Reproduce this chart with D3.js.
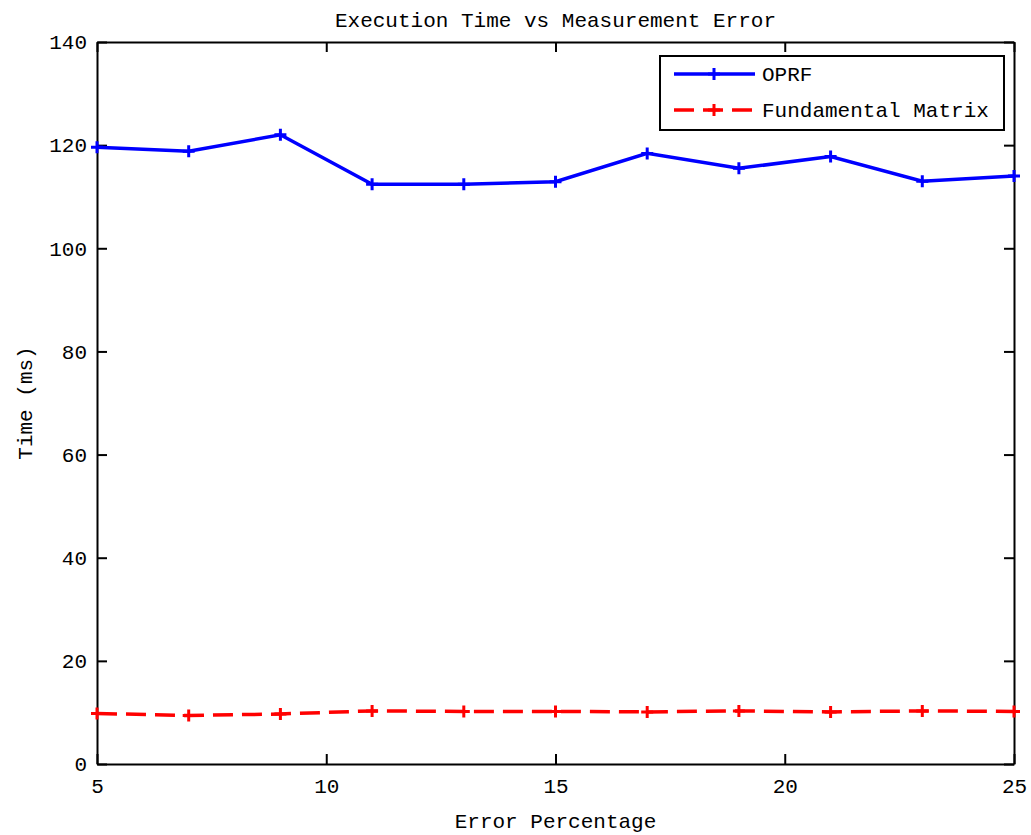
<!DOCTYPE html>
<html>
<head>
<meta charset="utf-8">
<script src="https://cdn.jsdelivr.net/npm/d3@7"></script>
<style>
  body { margin: 0; background: #fff; }
  text { font-family: "Liberation Mono", "DejaVu Sans Mono", monospace; font-size: 21px; fill: #000; }
</style>
</head>
<body>
<svg id="chart" width="1031" height="835"></svg>
<script>
// datos
const errorPct = [5, 7, 9, 11, 13, 15, 17, 19, 21, 23, 25];
const oprf = [119.6, 118.8, 122.0, 112.4, 112.4, 112.9, 118.4, 115.5, 117.8, 113.0, 114.0];
const fundamental = [9.8, 9.4, 9.7, 10.3, 10.2, 10.2, 10.1, 10.3, 10.1, 10.3, 10.2];
const xTicks = [5, 10, 15, 20, 25];
const yTicks = [0, 20, 40, 60, 80, 100, 120, 140];

const svg = d3.select("#chart");
const margin = {left: 97, right: 1014, top: 42, bottom: 764};

const x = d3.scaleLinear().domain([5, 25]).range([margin.left, margin.right]);
const y = d3.scaleLinear().domain([0, 140]).range([margin.bottom, margin.top]);

// ejes (ticks hacia dentro, como en matlab)
const axes = svg.append("g");
axes.append("g")
    .attr("transform", `translate(0,${margin.bottom})`)
    .call(d3.axisBottom(x).tickValues(xTicks).tickSizeInner(-10).tickSizeOuter(0).tickPadding(14));
axes.append("g")
    .attr("transform", `translate(0,${margin.top})`)
    .call(d3.axisTop(x).tickValues(xTicks).tickSizeInner(-10).tickSizeOuter(0).tickFormat(""));
axes.append("g")
    .attr("transform", `translate(${margin.left},0)`)
    .call(d3.axisLeft(y).tickValues(yTicks).tickSizeInner(-10).tickSizeOuter(0).tickPadding(10));
axes.append("g")
    .attr("transform", `translate(${margin.right},0)`)
    .call(d3.axisRight(y).tickValues(yTicks).tickSizeInner(-10).tickSizeOuter(0).tickFormat(""));

axes.selectAll(".domain").attr("stroke", "#000").attr("stroke-width", 2);
axes.selectAll(".tick line").attr("stroke", "#000").attr("stroke-width", 2);
axes.selectAll(".tick text").style("font-size", "21px").attr("fill", "#000");

// series
const line = d3.line().x((d, i) => x(errorPct[i])).y(d => y(d));

function drawSeries(values, color, dash) {
    const g = svg.append("g");
    g.append("path")
        .datum(values)
        .attr("fill", "none")
        .attr("stroke", color)
        .attr("stroke-width", 3.5)
        .attr("stroke-dasharray", dash)
        .attr("d", line);
    g.selectAll(".mk").data(values).enter().append("path")
        .attr("class", "mk")
        .attr("fill", "none")
        .attr("stroke", color)
        .attr("stroke-width", 3)
        .attr("d", (d, i) => {
            const cx = x(errorPct[i]), cy = y(d), s = 6;
            return `M${cx - s},${cy}H${cx + s}M${cx},${cy - s}V${cy + s}`;
        });
}
drawSeries(oprf, "#0000ff", null);
drawSeries(fundamental, "#ff0000", "20,9");

// leyenda
const legend = svg.append("g");
legend.append("rect")
    .attr("x", 660).attr("y", 56).attr("width", 344).attr("height", 74)
    .attr("fill", "#fff").attr("stroke", "#000").attr("stroke-width", 2);
const items = [
    {name: "OPRF", color: "#0000ff", dash: null, yy: 74},
    {name: "Fundamental Matrix", color: "#ff0000", dash: "20,9", yy: 110}
];
items.forEach(it => {
    legend.append("line")
        .attr("x1", 674).attr("x2", 755).attr("y1", it.yy).attr("y2", it.yy)
        .attr("stroke", it.color).attr("stroke-width", 3.5)
        .attr("stroke-dasharray", it.dash);
    legend.append("path")
        .attr("fill", "none").attr("stroke", it.color).attr("stroke-width", 3)
        .attr("d", `M708,${it.yy}H720M714,${it.yy - 6}V${it.yy + 6}`);
    legend.append("text")
        .attr("x", 762).attr("y", it.yy).attr("dy", "0.35em")
        .text(it.name);
});

// titulos
svg.append("text")
    .attr("x", (margin.left + margin.right) / 2).attr("y", 20).attr("dy", "0.35em")
    .attr("text-anchor", "middle")
    .text("Execution Time vs Measurement Error");
svg.append("text")
    .attr("x", (margin.left + margin.right) / 2).attr("y", 821).attr("dy", "0.35em")
    .attr("text-anchor", "middle")
    .text("Error Percentage");
svg.append("text")
    .attr("transform", `translate(25,${(margin.top + margin.bottom) / 2}) rotate(-90)`)
    .attr("dy", "0.35em")
    .attr("text-anchor", "middle")
    .text("Time (ms)");
</script>
</body>
</html>
